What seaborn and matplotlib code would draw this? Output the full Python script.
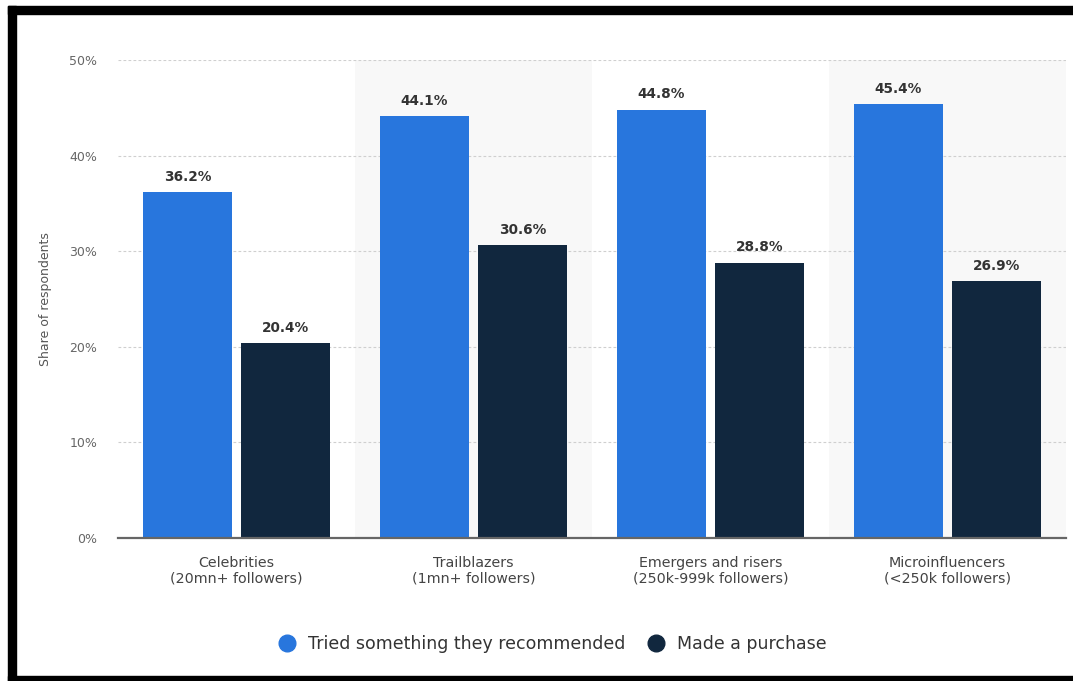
import matplotlib
matplotlib.use("Agg")
import matplotlib.pyplot as plt
from matplotlib.patches import Rectangle
from matplotlib.lines import Line2D
import seaborn as sns
import pandas as pd

categories = ["Celebrities\n(20mn+ followers)", "Trailblazers\n(1mn+ followers)",
              "Emergers and risers\n(250k-999k followers)", "Microinfluencers\n(<250k followers)"]
series_names = ["Tried something they recommended", "Made a purchase"]
tried = [36.2, 44.1, 44.8, 45.4]
purchase = [20.4, 30.6, 28.8, 26.9]
yticks = [0, 10, 20, 30, 40, 50]
colors = ["#2876dd", "#11273e"]

df = pd.DataFrame({
    "category": categories * 2,
    "series": [series_names[0]] * 4 + [series_names[1]] * 4,
    "value": tried + purchase,
})

sns.set_theme(style="white")
plt.rcParams['font.family'] = ['DejaVu Sans']

fig = plt.figure(figsize=(10.73, 6.81), dpi=100)
ax = fig.add_axes([118/1073, 1-538/681, (1066-118)/1073, (538-60)/681])

for i in range(len(categories)):
    if i % 2 == 1:
        ax.axvspan(i-0.5, i+0.5, color="#f8f8f8", zorder=0, lw=0)

for t in yticks[1:]:
    ax.axhline(t, color="#cfcfcf", lw=0.8, ls=(0, (2.5, 2)), zorder=0.5)

sns.barplot(data=df, x="category", y="value", hue="series", palette=colors,
            width=0.83, gap=0.09, ax=ax, legend=False, saturation=1, zorder=2,
            edgecolor="none")

for c in ax.containers:
    ax.bar_label(c, fmt="%.1f%%", padding=6, fontsize=9.8, color="#333333", fontweight="semibold")

ax.set_xlim(-0.5, len(categories)-0.5)
ax.set_ylim(0, 50)
ax.set_yticks(yticks)
ax.set_yticklabels([f"{t}%" for t in yticks], fontsize=9, color="#666666")
ax.tick_params(axis="y", length=0, pad=15)
ax.tick_params(axis="x", length=0, pad=13, labelsize=10.3, labelcolor="#444444")
for lbl in ax.get_xticklabels():
    lbl.set_linespacing(1.15)
ax.set_xlabel("")
ax.set_ylabel("Share of respondents", fontsize=9, color="#555555", labelpad=12)
for s in ["top", "right", "left"]:
    ax.spines[s].set_visible(False)
ax.spines["bottom"].set_color("#666666")
ax.spines["bottom"].set_linewidth(1.6)
ax.set_facecolor("white")

handles = [Line2D([], [], marker="o", ls="", markersize=12, color=c) for c in colors]
fig.legend(handles, series_names, loc="center", bbox_to_anchor=(548/1073, 1-644/681),
           ncol=2, frameon=False, fontsize=12.5, handletextpad=0.2, columnspacing=0.8,
           labelcolor="#333333")

# black frame
fig.patches.append(Rectangle((8/1073, 0), 8/1073, 1-6/681, transform=fig.transFigure,
                             color="black", zorder=10))
fig.patches.append(Rectangle((8/1073, 1-14/681), 1-8/1073, 8/681, transform=fig.transFigure,
                             color="black", zorder=10))
fig.patches.append(Rectangle((8/1073, 0), 1-8/1073, 5/681, transform=fig.transFigure,
                             color="black", zorder=10))

fig.savefig("out.png", dpi=100)
